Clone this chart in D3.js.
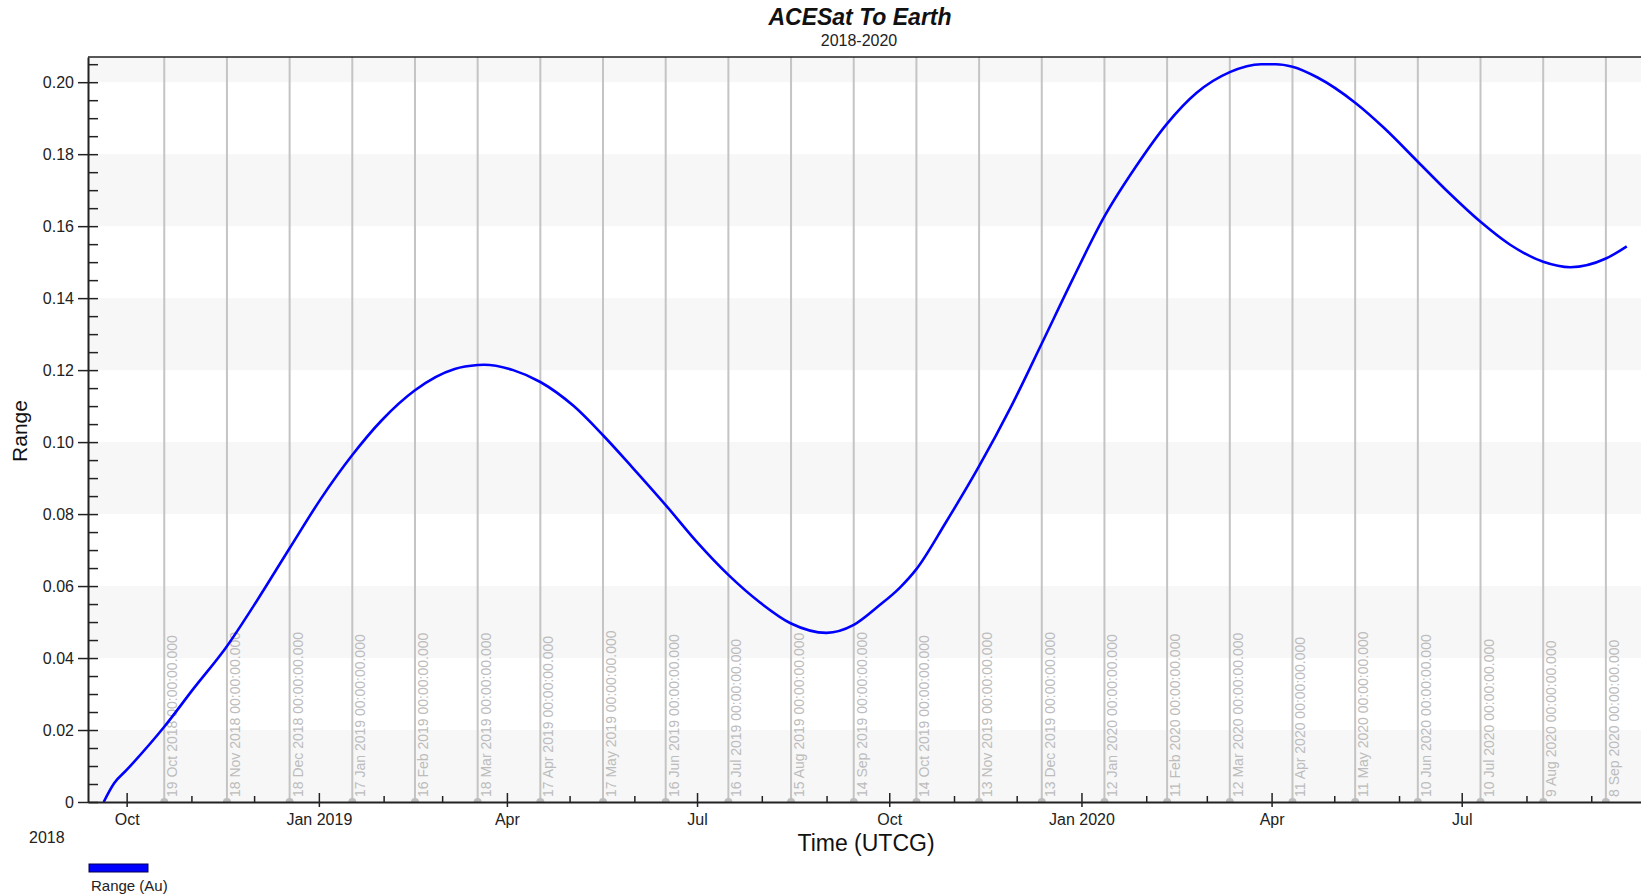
<!DOCTYPE html>
<html>
<head>
<meta charset="utf-8">
<script src="https://cdn.jsdelivr.net/npm/d3@7"></script>
<style>
  body { margin: 0; background: #ffffff; }
  svg { display: block; font-family: "Liberation Sans", Arial, sans-serif; }
</style>
</head>
<body>
<svg id="chart" width="1641" height="895"></svg>
<script>
// ---------- data ----------
const sampleDates = ["2018-09-20","2018-09-25","2018-10-01","2018-10-19","2018-11-02","2018-11-18","2018-12-01","2018-12-18",
  "2019-01-02","2019-01-17","2019-01-31","2019-02-16","2019-03-07","2019-03-18","2019-03-21","2019-04-04","2019-04-17",
  "2019-05-03","2019-05-17","2019-05-31","2019-06-16","2019-07-01","2019-07-16","2019-07-31","2019-08-15","2019-09-01",
  "2019-09-14","2019-09-26","2019-10-06","2019-10-14","2019-10-28","2019-11-13","2019-11-28","2019-12-13","2019-12-28",
  "2020-01-12","2020-01-27","2020-02-11","2020-02-25","2020-03-12","2020-03-27","2020-04-03","2020-04-11","2020-04-23",
  "2020-05-11","2020-05-25","2020-06-10","2020-06-25","2020-07-10","2020-07-24","2020-08-09","2020-08-22","2020-09-08","2020-09-18"];
const rangeAu = [0.0000,0.0052,0.0089,0.0209,0.0315,0.0433,0.0547,0.0705,
  0.0843,0.0964,0.1060,0.1144,0.1203,0.1214,0.1215,0.1200,0.1167,
  0.1100,0.1019,0.0930,0.0825,0.0722,0.0631,0.0555,0.0496,0.0470,
  0.0492,0.0545,0.0595,0.0647,0.0776,0.0933,0.1095,0.1274,0.1455,
  0.1627,0.1765,0.1885,0.1970,0.2028,0.2050,0.2050,0.2043,0.2013,
  0.1943,0.1872,0.1779,0.1692,0.1612,0.1549,0.1501,0.1486,0.1510,0.1544];

const eventDates = ["2018-10-19","2018-11-18","2018-12-18","2019-01-17","2019-02-16","2019-03-18","2019-04-17","2019-05-17",
  "2019-06-16","2019-07-16","2019-08-15","2019-09-14","2019-10-14","2019-11-13","2019-12-13","2020-01-12","2020-02-11",
  "2020-03-12","2020-04-11","2020-05-11","2020-06-10","2020-07-10","2020-08-09","2020-09-08"];

const yTicks = [0,0.02,0.04,0.06,0.08,0.10,0.12,0.14,0.16,0.18,0.20];
const yTickLabels = ["0","0.02","0.04","0.06","0.08","0.10","0.12","0.14","0.16","0.18","0.20"];
const xTickDates = ["2018-10-01","2019-01-01","2019-04-01","2019-07-01","2019-10-01","2020-01-01","2020-04-01","2020-07-01"];
const xTickLabels = ["Oct","Jan 2019","Apr","Jul","Oct","Jan 2020","Apr","Jul"];
const yearLabel = "2018";
const titleText = "ACESat To Earth";
const subtitleText = "2018-2020";
const yTitle = "Range";
const xTitle = "Time (UTCG)";
const legendLabel = "Range (Au)";

// ---------- layout ----------
const parse = d3.utcParse("%Y-%m-%d");
const L = 88, T = 57, B = 802, R = 1660;
const svg = d3.select("#chart");

const x = d3.scaleUtc()
  .domain([new Date(Date.UTC(2018, 8, 12, 12)), new Date(Date.UTC(2020, 8, 30))])
  .range([L, L + 748.5 * 2.0893]);
const y = d3.scaleLinear().domain([0, 0.207]).range([B, T]);

svg.append("defs").append("clipPath").attr("id", "plotclip")
  .append("rect").attr("x", L).attr("y", T).attr("width", R - L).attr("height", B - T);

const plot = svg.append("g").attr("clip-path", "url(#plotclip)");

// bands
const bandStarts = [0, 0.04, 0.08, 0.12, 0.16, 0.20];
plot.selectAll("rect.band").data(bandStarts).join("rect")
  .attr("class", "band")
  .attr("x", L).attr("width", R - L)
  .attr("y", d => y(Math.min(d + 0.02, 0.207)))
  .attr("height", d => y(d) - y(Math.min(d + 0.02, 0.207)))
  .attr("fill", "#f7f7f7");

// event lines
const evFmt = d3.utcFormat("%-d %b %Y %H:%M:%S.%L");
const ev = eventDates.map(parse);
plot.selectAll("line.ev").data(ev).join("line")
  .attr("class", "ev")
  .attr("x1", d => x(d)).attr("x2", d => x(d))
  .attr("y1", T).attr("y2", B)
  .attr("stroke", "#c4c4c4").attr("stroke-width", 2);
plot.selectAll("circle.ev").data(ev).join("circle")
  .attr("class", "ev")
  .attr("cx", d => x(d)).attr("cy", B).attr("r", 4)
  .attr("fill", "#bdbdbd");
plot.selectAll("text.ev").data(ev).join("text")
  .attr("class", "ev")
  .attr("transform", d => `translate(${x(d) + 13},${B - 5}) rotate(-90)`)
  .attr("font-size", 14).attr("fill", "#bcbcbc")
  .text(d => evFmt(d));

// curve
const pts = sampleDates.map((d, i) => [parse(d), rangeAu[i]]);
const line = d3.line().x(d => x(d[0])).y(d => y(d[1])).curve(d3.curveMonotoneX);
plot.append("path").datum(pts)
  .attr("d", line).attr("fill", "none")
  .attr("stroke", "#0000ff").attr("stroke-width", 2.6);

// top border
svg.append("line").attr("x1", L).attr("x2", R).attr("y1", T).attr("y2", T)
  .attr("stroke", "#222").attr("stroke-width", 1.5);

// y axis
const yAxis = svg.append("g").attr("transform", `translate(${L},0)`)
  .call(d3.axisLeft(y).tickValues(yTicks).tickFormat((d, i) => yTickLabels[i]).tickSize(10).tickPadding(4).tickSizeOuter(0));
yAxis.selectAll(".tick line").attr("x1", 10);
const yMinor = d3.range(0, 0.2051, 0.005).filter(v => Math.abs(Math.round(v / 0.02) * 0.02 - v) > 1e-6);
svg.append("g").attr("transform", `translate(${L},0)`)
  .call(d3.axisLeft(y).tickValues(yMinor).tickFormat("").tickSize(-10).tickSizeOuter(0))
  .select(".domain").remove();

// x axis
const xAxis = svg.append("g").attr("transform", `translate(0,${B})`)
  .call(d3.axisBottom(x).tickValues(xTickDates.map(parse)).tickFormat((d, i) => xTickLabels[i]).tickSize(6).tickPadding(6).tickSizeOuter(0));
xAxis.selectAll(".tick line").attr("y1", -9).attr("y2", 5);
const xMinor = d3.utcMonth.range(new Date(Date.UTC(2018, 9, 1)), new Date(Date.UTC(2020, 9, 1)))
  .filter(d => d.getUTCMonth() % 3 !== 0);
svg.append("g").attr("transform", `translate(0,${B})`)
  .call(d3.axisBottom(x).tickValues(xMinor).tickFormat("").tickSize(-6).tickSizeOuter(0))
  .select(".domain").remove();

svg.selectAll(".domain").attr("stroke", "#222").attr("stroke-width", 2);
svg.selectAll(".tick line").attr("stroke", "#222").attr("stroke-width", 1.5);
svg.selectAll(".tick text").attr("font-size", 16).attr("fill", "#222")
  .attr("font-family", "'Liberation Sans', Arial, sans-serif");

// year label
svg.append("text").attr("x", 29).attr("y", 843).attr("font-size", 16).attr("fill", "#222").text(yearLabel);

// titles
svg.append("text").attr("x", 860).attr("y", 25).attr("text-anchor", "middle")
  .attr("font-size", 23).attr("font-weight", "bold").attr("font-style", "italic").attr("fill", "#111")
  .text(titleText);
svg.append("text").attr("x", 859).attr("y", 46).attr("text-anchor", "middle")
  .attr("font-size", 16).attr("fill", "#222").text(subtitleText);
svg.append("text").attr("x", 866).attr("y", 851).attr("text-anchor", "middle")
  .attr("font-size", 23).attr("fill", "#111").text(xTitle);
svg.append("text").attr("transform", "translate(27,431) rotate(-90)").attr("text-anchor", "middle")
  .attr("font-size", 21).attr("fill", "#111").text(yTitle);

// legend
svg.append("rect").attr("x", 89).attr("y", 864).attr("width", 59).attr("height", 8)
  .attr("fill", "#0000ff").attr("stroke", "#000050").attr("stroke-width", 1);
svg.append("text").attr("x", 91).attr("y", 891).attr("font-size", 15).attr("fill", "#222").text(legendLabel);
</script>
</body>
</html>
